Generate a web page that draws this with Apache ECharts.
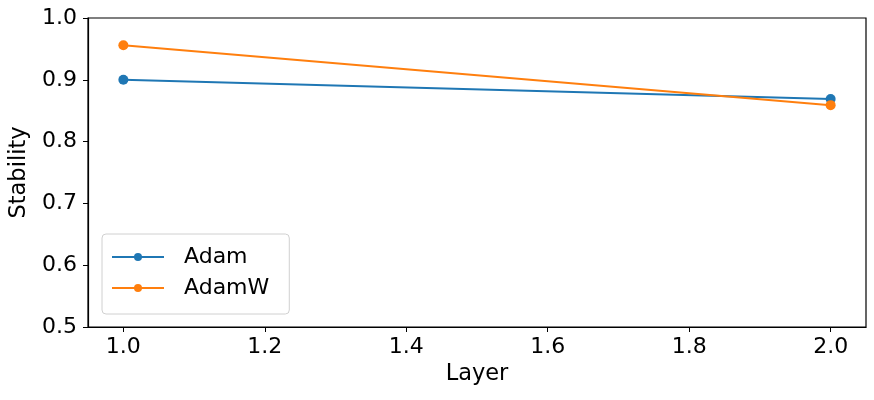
<!DOCTYPE html>
<html><head><meta charset="utf-8">
<script src="https://cdn.jsdelivr.net/npm/echarts@6/dist/echarts.min.js"></script>
<style>html,body{margin:0;padding:0;background:#fff}#c{width:874px;height:400px}</style>
</head><body><div id="c"></div>
<script>
const layers = [1.0, 2.0];
const adam = [0.900, 0.869];
const adamw = [0.956, 0.859];
const xTicks = [1.0, 1.2, 1.4, 1.6, 1.8, 2.0];
const font = 'DejaVu Sans';
const chart = echarts.init(document.getElementById('c'));
chart.setOption({
  animation: false,
  grid: {left: 88, right: 8, top: 18, bottom: 73, show: true, borderColor: '#000', borderWidth: 1.2, backgroundColor: 'transparent'},
  xAxis: {
    type: 'value', min: 0.95, max: 2.05,
    name: 'Layer', nameLocation: 'middle', nameGap: 33,
    nameTextStyle: {fontFamily: font, fontSize: 22.5, color: '#000'},
    axisLine: {show: true, onZero: false, lineStyle: {color: '#000', width: 1.2}},
    axisTick: {show: true, length: 5, customValues: xTicks, lineStyle: {color: '#000'}},
    axisLabel: {customValues: xTicks, fontFamily: font, fontSize: 22, color: '#000', margin: 9,
      formatter: v => v.toFixed(1)},
    splitLine: {show: false}
  },
  yAxis: {
    type: 'value', min: 0.5, max: 1.0, interval: 0.1,
    name: 'Stability', nameLocation: 'middle', nameGap: 56,
    nameTextStyle: {fontFamily: font, fontSize: 22.5, color: '#000'},
    axisLine: {show: true, lineStyle: {color: '#000', width: 1.2}},
    axisTick: {show: true, length: 5, lineStyle: {color: '#000'}},
    axisLabel: {fontFamily: font, fontSize: 22, color: '#000', margin: 11,
      formatter: v => v.toFixed(1)},
    splitLine: {show: false}
  },
  legend: {
    orient: 'vertical', left: 102, top: 234,
    padding: [12, 20, 15, 9], itemGap: 9, itemWidth: 52, itemHeight: 10,
    borderColor: '#d0d0d0', borderWidth: 1, borderRadius: 4, backgroundColor: 'rgba(255,255,255,0.8)',
    textStyle: {fontFamily: font, fontSize: 22, color: '#000', padding: [0, 0, 0, 15]},
    data: ['Adam', 'AdamW']
  },
  series: [
    {name: 'Adam', type: 'line', data: layers.map((x, i) => [x, adam[i]]),
      symbol: 'circle', symbolSize: 10, color: '#1f77b4', lineStyle: {width: 2, color: '#1f77b4'}},
    {name: 'AdamW', type: 'line', data: layers.map((x, i) => [x, adamw[i]]),
      symbol: 'circle', symbolSize: 10, color: '#ff7f0e', lineStyle: {width: 2, color: '#ff7f0e'}}
  ]
});
</script></body></html>
